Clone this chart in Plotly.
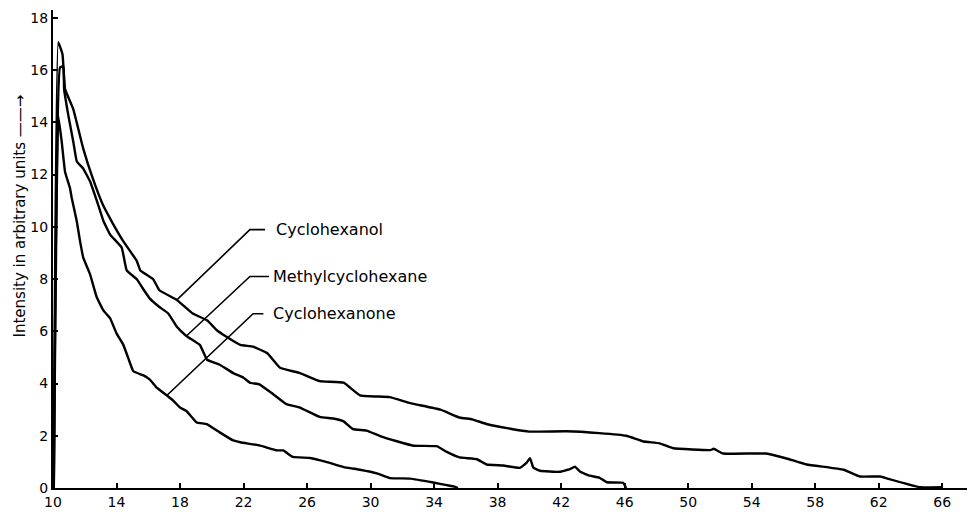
import plotly.graph_objects as go

# ---- data ----
x_ol = [10.05, 10.33, 10.6, 10.76, 11.28, 11.9, 12.5, 13.15, 13.7, 14.4, 15.27, 15.5, 16.3, 16.7, 17.8,
        18.8, 19.7, 20.3, 20.9, 21.8, 22.6, 23.5, 24.3, 25.55, 26.8, 28.3, 29.33, 31.2, 32.5, 34.4,
        35.6, 36.4, 37.3, 38.8, 40.0, 42.35, 44.4, 46.1, 47.2, 48.2, 49.06, 51.4, 51.6, 52.2, 54.9,
        56.2, 57.46, 59.8, 60.8, 62.1, 62.5, 64.6, 66.0]
y_ol = [0.0, 17.07, 16.6, 15.27, 14.5, 13.0, 11.86, 10.83, 10.2, 9.47, 8.7, 8.33, 8.0, 7.57, 7.2,
        6.68, 6.42, 6.05, 5.8, 5.48, 5.41, 5.16, 4.6, 4.4, 4.09, 4.03, 3.55, 3.48, 3.25, 3.0,
        2.7, 2.63, 2.45, 2.27, 2.16, 2.17, 2.1, 2.0, 1.78, 1.71, 1.52, 1.45, 1.5, 1.32, 1.32,
        1.13, 0.9, 0.7, 0.44, 0.44, 0.37, 0.03, 0.03]

x_me = [10.05, 10.44, 10.65, 10.7, 10.97, 11.28, 11.5, 11.9, 12.33, 12.85, 13.17, 13.6, 14.33, 14.64,
        15.27, 15.7, 16.1, 16.7, 17.26, 17.8, 18.4, 19.25, 19.7, 20.5, 21.35, 22.0, 22.4, 23.0, 23.87,
        24.7, 25.55, 26.8, 27.65, 28.3, 28.9, 29.75, 30.6, 31.6, 32.7, 34.16, 34.8, 35.6, 36.7, 37.3,
        38.36, 39.4, 39.8, 40.04, 40.25, 40.67, 41.9, 42.55, 42.87, 43.2, 43.8, 44.4, 44.87, 45.9, 46.1]
y_me = [0.0, 16.1, 16.15, 15.27, 14.25, 13.25, 12.5, 12.23, 11.74, 10.83, 10.23, 9.7, 9.2, 8.33,
        8.0, 7.6, 7.25, 6.93, 6.68, 6.17, 5.82, 5.48, 4.91, 4.72, 4.4, 4.22, 4.03, 3.97, 3.59,
        3.21, 3.08, 2.72, 2.66, 2.55, 2.25, 2.2, 1.99, 1.8, 1.62, 1.6, 1.38, 1.17, 1.1, 0.9,
        0.86, 0.77, 0.95, 1.14, 0.78, 0.66, 0.62, 0.72, 0.82, 0.62, 0.47, 0.4, 0.22, 0.2, 0.0]

x_on = [10.05, 10.33, 10.55, 10.76, 11.07, 11.18, 11.5, 11.7, 11.9, 12.33, 12.75, 13.17, 13.6, 14.0,
        14.43, 14.74, 15.06, 15.7, 16.1, 16.53, 17.16, 17.6, 18.0, 18.4, 19.05, 19.68, 20.5, 21.35,
        21.8, 23.0, 24.1, 24.5, 25.1, 26.2, 27.2, 28.3, 29.33, 30.4, 31.2, 32.5, 33.95, 34.8, 35.3, 35.5]
y_on = [0.0, 14.25, 13.25, 12.1, 11.48, 11.1, 10.2, 9.46, 8.83, 8.19, 7.31, 6.8, 6.49, 5.92,
        5.48, 4.97, 4.47, 4.31, 4.15, 3.84, 3.55, 3.33, 3.08, 2.95, 2.51, 2.45, 2.13, 1.82,
        1.75, 1.63, 1.44, 1.44, 1.19, 1.15, 1.0, 0.8, 0.7, 0.56, 0.38, 0.36, 0.21, 0.11, 0.05, 0.0]

labels = ["Cyclohexanol", "Methylcyclohexane", "Cyclohexanone"]
# leader lines: curve point -> elbow -> end of short horizontal dash
lead_x = [[17.8, 22.4, 23.35], [18.4, 22.4, 23.6], [17.2, 22.6, 23.25]]
lead_y = [[7.2, 9.89, 9.89], [5.82, 8.1, 8.1], [3.56, 6.67, 6.67]]
label_x = [23.9, 23.75, 23.75]

x_ticks = list(range(10, 67, 4))
y_ticks = list(range(0, 19, 2))

fig = go.Figure()
line_style = dict(color="black", width=2.4, shape="spline", smoothing=0.3)
for xs, ys, name in [(x_ol, y_ol, labels[0]), (x_me, y_me, labels[1]), (x_on, y_on, labels[2])]:
    fig.add_trace(go.Scatter(x=xs, y=ys, mode="lines", name=name, line=line_style,
                             showlegend=False, hoverinfo="skip"))

for lx, ly in zip(lead_x, lead_y):
    fig.add_trace(go.Scatter(x=lx, y=ly, mode="lines", line=dict(color="black", width=1.6),
                             showlegend=False, hoverinfo="skip"))

for lab, lx, ly in zip(labels, label_x, lead_y):
    fig.add_annotation(x=lx, y=ly[-1], text=lab, showarrow=False, xanchor="left", yanchor="middle",
                       font=dict(family="DejaVu Sans", size=16, color="black"))

fig.add_annotation(x=-0.036, xref="paper", y=10.4, yref="y", xanchor="center", yanchor="middle",
                   text="Intensity in arbitrary units ——→", textangle=-90, showarrow=False,
                   font=dict(family="DejaVu Sans", size=15, color="black"))

axis_font = dict(family="DejaVu Sans", size=14, color="black")
fig.update_layout(
    width=973, height=516,
    margin=dict(l=53, r=6, t=10, b=23),
    paper_bgcolor="white", plot_bgcolor="white",
    xaxis=dict(range=[10, 67.56], tickvals=x_ticks, ticktext=[str(v) for v in x_ticks],
               showgrid=False, zeroline=False, showline=True, linecolor="black", linewidth=2,
               ticks="inside", ticklen=5, tickwidth=2, tickcolor="black", tickfont=axis_font),
    yaxis=dict(range=[0, 18.3], tickvals=y_ticks, ticktext=[str(v) for v in y_ticks],
               showgrid=False, zeroline=False, showline=True, linecolor="black", linewidth=2,
               ticks="inside", ticklen=5, tickwidth=2, tickcolor="black", tickfont=axis_font),
)

fig.write_html("out.html")
